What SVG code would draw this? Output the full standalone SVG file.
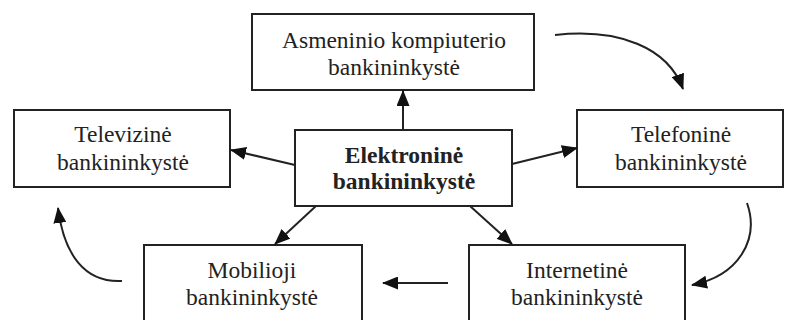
<svg xmlns="http://www.w3.org/2000/svg" width="785" height="320" viewBox="0 0 785 320">
  <style>
    .box { fill: #fff; stroke: #222; stroke-width: 2; }
    .lbl { font-family: "Liberation Serif", "Times New Roman", serif; font-size: 23.5px; fill: #222; text-anchor: middle; }
    .bold { font-weight: bold; }
    .conn { fill: none; stroke: #222; stroke-width: 2; }
  </style>
  <defs>
    <marker id="arrow" viewBox="0 0 16 13" refX="15" refY="6.5" markerWidth="16" markerHeight="13" markerUnits="userSpaceOnUse" orient="auto">
      <path d="M0,0 L16,6.5 L0,13 Z" fill="#111"/>
    </marker>
  </defs>
  <rect width="785" height="320" fill="#fff"/>

  <g id="node-asmeninio">
    <rect class="box" x="252" y="14" width="282" height="76"/>
    <text class="lbl" x="394" y="48">Asmeninio kompiuterio</text>
    <text class="lbl" x="394" y="75">bankininkystė</text>
  </g>

  <g id="node-televizine">
    <rect class="box" x="14" y="110" width="216" height="77"/>
    <text class="lbl" x="123" y="142">Televizinė</text>
    <text class="lbl" x="123" y="170">bankininkystė</text>
  </g>

  <g id="node-elektronine">
    <rect class="box" x="295" y="130" width="217" height="76"/>
    <text class="lbl bold" x="404" y="163">Elektroninė</text>
    <text class="lbl bold" x="404" y="189">bankininkystė</text>
  </g>

  <g id="node-telefonine">
    <rect class="box" x="577" y="110" width="206" height="77"/>
    <text class="lbl" x="681" y="142">Telefoninė</text>
    <text class="lbl" x="681" y="170">bankininkystė</text>
  </g>

  <g id="node-mobilioji">
    <rect class="box" x="144" y="245" width="218" height="90"/>
    <text class="lbl" x="252" y="278">Mobilioji</text>
    <text class="lbl" x="252" y="305">bankininkystė</text>
  </g>

  <g id="node-internetine">
    <rect class="box" x="469" y="245" width="216" height="90"/>
    <text class="lbl" x="577" y="278">Internetinė</text>
    <text class="lbl" x="577" y="305">bankininkystė</text>
  </g>

  <g id="connectors">
    <line class="conn" x1="403" y1="130" x2="403" y2="91" marker-end="url(#arrow)"/>
    <line class="conn" x1="295" y1="165" x2="231" y2="150" marker-end="url(#arrow)"/>
    <line class="conn" x1="512" y1="164" x2="577" y2="148" marker-end="url(#arrow)"/>
    <line class="conn" x1="316" y1="206" x2="275" y2="244" marker-end="url(#arrow)"/>
    <line class="conn" x1="470" y1="206" x2="512" y2="244" marker-end="url(#arrow)"/>
    <path class="conn" d="M555,35 C620,28 668,48 683,89" marker-end="url(#arrow)"/>
    <path class="conn" d="M747,203 C760,240 738,276 692,285" marker-end="url(#arrow)"/>
    <line class="conn" x1="448" y1="283" x2="383" y2="283" marker-end="url(#arrow)"/>
    <path class="conn" d="M122,281 C85,283 64,255 58,208" marker-end="url(#arrow)"/>
  </g>
</svg>
